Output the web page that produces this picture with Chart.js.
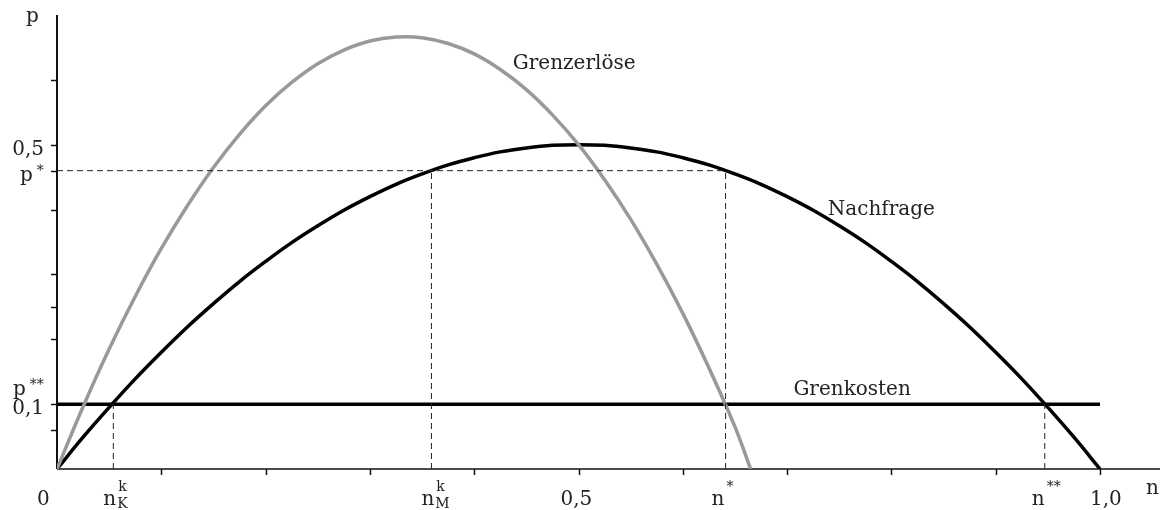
<!DOCTYPE html>
<html><head><meta charset="utf-8">
<script src="https://cdn.jsdelivr.net/npm/chart.js@4"></script>
<style>html,body{margin:0;padding:0;background:#fff}#wrap{width:1161px;height:510px}</style>
</head><body><div id="wrap"><canvas id="c" width="1161" height="510"></canvas></div>
<script>
// Data
const nValues = [0,0.025,0.05,0.075,0.1,0.125,0.15,0.175,0.2,0.225,0.25,0.275,0.3,0.325,0.35,0.375,0.4,0.425,0.45,0.475,0.5,
                 0.525,0.55,0.575,0.6,0.625,0.65,0.675,0.7,0.725,0.75,0.775,0.8,0.825,0.85,0.875,0.9,0.925,0.95,0.975,1.0];
const nachfrage = [0,0.049,0.095,0.139,0.18,0.219,0.255,0.289,0.32,0.349,0.375,0.399,0.42,0.439,0.455,0.469,0.48,0.489,0.495,0.499,0.5,
                   0.499,0.495,0.489,0.48,0.469,0.455,0.439,0.42,0.399,0.375,0.349,0.32,0.289,0.255,0.219,0.18,0.139,0.095,0.049,0];
const erloesN = [0,0.025,0.05,0.075,0.1,0.125,0.15,0.175,0.2,0.225,0.25,0.275,0.3,0.325,0.35,0.375,0.4,0.425,0.45,0.475,0.5,
                 0.525,0.55,0.575,0.6,0.625,0.65,0.665];
const grenzerloese = [0,0.096,0.185,0.266,0.34,0.406,0.465,0.516,0.56,0.596,0.625,0.646,0.66,0.666,0.665,0.656,0.64,0.616,0.585,0.546,0.5,
                      0.446,0.385,0.316,0.24,0.156,0.065,0.0];
const grenzkosten = 0.1;
const pStar = 0.46;
const nKk = 0.054, nMk = 0.359, nStar = 0.641, nStar2 = 0.947;
const xTicks = [0.1,0.2,0.3,0.4,0.5,0.6,0.7,0.8,0.9,1.0];
const yTicks = [0.06,0.1,0.2,0.25,0.3,0.4,0.46,0.5,0.6];
const xLabels = [
  {v:0, main:'0', dx:-20}, {v:nKk, main:'n', sup:'k', sub:'K', dx:-10}, {v:nMk, main:'n', sup:'k', sub:'M', dx:-10},
  {v:0.5, main:'0,5', dx:-18}, {v:nStar, main:'n', sup:'*', dx:-14}, {v:nStar2, main:'n', sup:'**', dx:-13}, {v:1.0, main:'1,0', dx:-10}
];
const yLabels = [{v:0.5, main:'0,5'}, {v:pStar, main:'p', sup:'*', x:20}, {v:0.13, main:'p', sup:'**', x:13}, {v:0.1, main:'0,1'}];
const curveLabels = [{x:0.437, y:0.617, t:'Grenzerlöse'}, {x:0.739, y:0.392, t:'Nachfrage'}, {x:0.706, y:0.114, t:'Grenkosten'}];

const FONT = '20px "DejaVu Serif"';
const SMALL = '14px "DejaVu Serif"';
const TXT = '#222';

const pts = (xs, ys) => xs.map((x,i)=>({x, y: ys[i]}));
const dash = (a) => ({data:a, borderColor:'#222', borderWidth:1, borderDash:[6,4], pointRadius:0, tension:0, fill:false});

const axesPlugin = {
  id:'axes',
  beforeDatasetsDraw(chart){
    const {ctx, scales:{x,y}} = chart;
    ctx.save();
    const x0 = x.getPixelForValue(0), y0 = y.getPixelForValue(0);
    ctx.strokeStyle = '#111';
    ctx.lineWidth = 2;
    ctx.beginPath(); ctx.moveTo(x0, y.getPixelForValue(0.7)); ctx.lineTo(x0, y0); ctx.stroke();
    ctx.lineWidth = 1.5;
    ctx.beginPath(); ctx.moveTo(x0, y0); ctx.lineTo(x.right, y0); ctx.stroke();
    xTicks.forEach(v=>{const px=Math.round(x.getPixelForValue(v))+0.5; ctx.beginPath(); ctx.moveTo(px,y0); ctx.lineTo(px,y0+6); ctx.stroke();});
    yTicks.forEach(v=>{const py=Math.round(y.getPixelForValue(v))+0.5; ctx.beginPath(); ctx.moveTo(x0-6,py); ctx.lineTo(x0,py); ctx.stroke();});
    ctx.restore();
  },
  afterDatasetsDraw(chart){
    const {ctx, scales:{x,y}} = chart;
    ctx.save();
    ctx.fillStyle = TXT;
    ctx.textBaseline = 'alphabetic';
    ctx.textAlign='left';
    const y0 = y.getPixelForValue(0);
    xLabels.forEach(l=>{
      const px = x.getPixelForValue(l.v);
      ctx.font = FONT;
      const w = ctx.measureText(l.main).width;
      const left = px + l.dx;
      ctx.fillText(l.main, left, y0+36);
      ctx.font = SMALL;
      if (l.sup) ctx.fillText(l.sup, left+w+2, y0+22);
      if (l.sub) ctx.fillText(l.sub, left+w+1, y0+39);
    });
    yLabels.forEach(l=>{
      const py = y.getPixelForValue(l.v);
      ctx.font = FONT;
      const w = ctx.measureText(l.main).width;
      const left = l.x !== undefined ? l.x : 44 - w;
      ctx.fillText(l.main, left, py+10);
      ctx.font = SMALL;
      if (l.sup) ctx.fillText(l.sup, left+w+4, py+4);
    });
    ctx.font = FONT;
    ctx.fillText('p', 26, 22);
    ctx.fillText('n', 1146, y0+25);
    curveLabels.forEach(l=>{
      ctx.fillText(l.t, x.getPixelForValue(l.x), y.getPixelForValue(l.y));
    });
    ctx.restore();
  }
};

new Chart(document.getElementById('c'), {
  type:'line',
  data:{datasets:[
    dash([{x:0,y:pStar},{x:nStar,y:pStar}]),
    dash([{x:nKk,y:0},{x:nKk,y:grenzkosten}]),
    dash([{x:nMk,y:0},{x:nMk,y:pStar}]),
    dash([{x:nStar,y:0},{x:nStar,y:pStar}]),
    dash([{x:nStar2,y:0},{x:nStar2,y:grenzkosten}]),
    {data:pts(erloesN, grenzerloese), borderColor:'#999', borderWidth:3.5, pointRadius:0, tension:0.4, fill:false},
    {data:pts(nValues, nachfrage), borderColor:'#000', borderWidth:3.5, pointRadius:0, tension:0.4, fill:false},
    {data:[{x:0,y:grenzkosten},{x:1.0,y:grenzkosten}], borderColor:'#000', borderWidth:3.5, pointRadius:0, fill:false}
  ]},
  options:{
    responsive:false, animation:false,
    layout:{padding:{left:57, right:1, top:15, bottom:41}},
    plugins:{legend:{display:false}, tooltip:{enabled:false}},
    scales:{
      x:{type:'linear', min:0, max:1.0575, display:false},
      y:{type:'linear', min:0, max:0.7, display:false}
    }
  },
  plugins:[axesPlugin]
});
</script></body></html>
